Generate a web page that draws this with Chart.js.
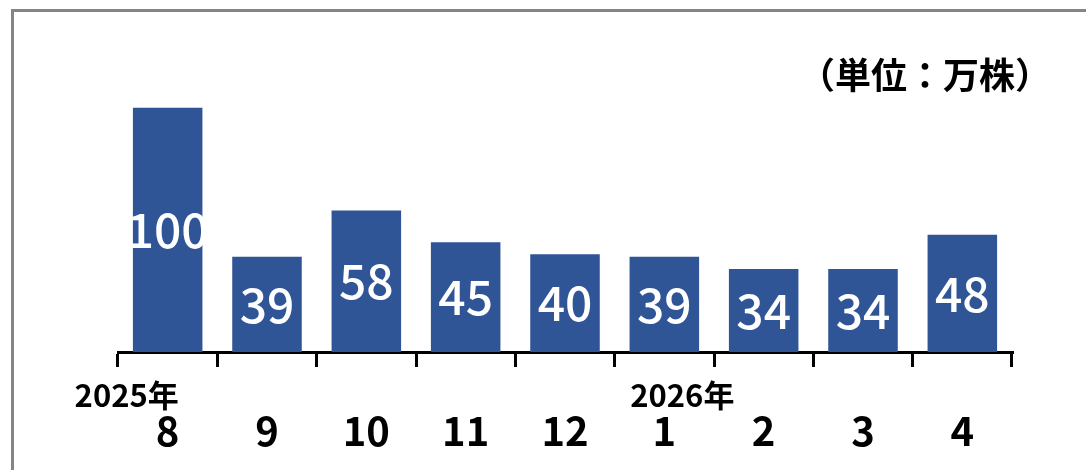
<!DOCTYPE html>
<html>
<head>
<meta charset="utf-8">
<script src="https://cdn.jsdelivr.net/npm/chart.js@4"></script>
<style>
  body { margin: 0; background: #fff; }
  #frame { position: absolute; left: 11px; top: 9px; width: 1100px; height: 500px; border: 3px solid #858585; }
  #chart { position: absolute; left: 0; top: 0; }
</style>
</head>
<body>
<div id="frame"></div>
<canvas id="chart" width="1086" height="470"></canvas>
<script>
const months = ['8', '9', '10', '11', '12', '1', '2', '3', '4'];
const values = [100, 39, 58, 45, 40, 39, 34, 34, 48];
const yearLabels = [
  { index: 0, text: '2025年', dx: -41 },
  { index: 5, text: '2026年', dx: 18 },
];
const unitText = '（単位：万株）';

const FONT = '"Noto Sans CJK JP", "Noto Sans", sans-serif';

// white value labels centred in each bar
const barLabels = {
  id: 'barLabels',
  afterDatasetsDraw(chart) {
    const ctx = chart.ctx;
    const meta = chart.getDatasetMeta(0);
    ctx.save();
    ctx.fillStyle = '#fff';
    ctx.font = `500 48px ${FONT}`;
    ctx.textAlign = 'center';
    ctx.textBaseline = 'middle';
    meta.data.forEach((bar, i) => {
      ctx.fillText(values[i], bar.x, (bar.y + bar.base) / 2);
    });
    ctx.restore();
  },
};

// year labels under the axis + unit note top right
const extraText = {
  id: 'extraText',
  afterDraw(chart) {
    const ctx = chart.ctx;
    const x = chart.scales.x;
    ctx.save();
    ctx.fillStyle = '#000';
    ctx.textAlign = 'center';
    ctx.textBaseline = 'alphabetic';
    ctx.font = `bold 31px ${FONT}`;
    yearLabels.forEach(y => {
      ctx.fillText(y.text, x.getPixelForValue(y.index) + y.dx, 407);
    });
    ctx.font = `bold 36px ${FONT}`;
    ctx.textAlign = 'right';
    ctx.fillText(unitText, 1051, 89);
    ctx.restore();
  },
};

new Chart(document.getElementById('chart'), {
  type: 'bar',
  data: {
    labels: months,
    datasets: [{
      data: values,
      backgroundColor: '#2F5597',
      barPercentage: 0.7,
      categoryPercentage: 1.0,
    }],
  },
  options: {
    responsive: false,
    animation: false,
    layout: { padding: { left: 118, right: 74, top: 59, bottom: -25 } },
    plugins: {
      legend: { display: false },
      tooltip: { enabled: false },
    },
    scales: {
      x: {
        grid: {
          display: true,
          offset: true,
          drawOnChartArea: false,
          drawTicks: true,
          tickLength: 15,
          lineWidth: 3,
          color: '#000',
        },
        border: { display: true, width: 3, color: '#000' },
        ticks: {
          color: '#000',
          font: { family: FONT, size: 40, weight: 'bold' },
          padding: 40,
          maxRotation: 0,
          autoSkip: false,
        },
      },
      y: {
        display: false,
        min: 0,
        max: 120,
      },
    },
  },
  plugins: [barLabels, extraText],
});
</script>
</body>
</html>
